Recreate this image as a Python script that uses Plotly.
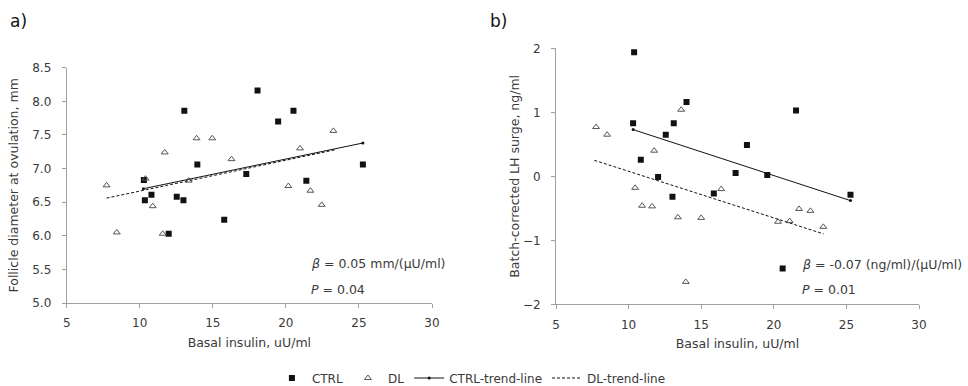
import plotly.graph_objects as go

# ---------- data ----------
# Panel a: follicle diameter at ovulation (mm) vs basal insulin (uU/ml)
a_ctrl_x = [10.28, 10.35, 10.80, 12.53, 12.99, 11.98, 13.05, 13.94, 15.78, 17.29, 18.06, 19.47, 20.52, 21.40, 25.27]
a_ctrl_y = [6.83, 6.53, 6.61, 6.58, 6.53, 6.03, 7.86, 7.06, 6.24, 6.92, 8.16, 7.70, 7.86, 6.82, 7.06]
a_dl_x = [7.73, 8.43, 10.39, 10.89, 11.57, 11.71, 13.35, 13.89, 14.96, 16.28, 20.17, 20.97, 21.68, 22.45, 23.25]
a_dl_y = [6.75, 6.05, 6.85, 6.44, 6.03, 7.24, 6.82, 7.45, 7.45, 7.14, 6.74, 7.30, 6.67, 6.46, 7.56]
a_ctrl_trend_x = [10.25, 25.27]
a_ctrl_trend_y = [6.70, 7.38]
a_dl_trend_x = [7.73, 23.40]
a_dl_trend_y = [6.56, 7.28]

# Panel b: batch-corrected LH surge (ng/ml) vs basal insulin (uU/ml)
b_ctrl_x = [10.38, 10.31, 10.84, 12.03, 12.56, 13.02, 13.11, 13.99, 15.87, 17.37, 18.15, 19.55, 20.61, 21.53, 25.28]
b_ctrl_y = [1.94, 0.83, 0.26, -0.01, 0.65, -0.32, 0.83, 1.16, -0.27, 0.05, 0.49, 0.02, -1.44, 1.03, -0.29]
b_dl_x = [7.76, 8.52, 10.45, 10.93, 11.62, 11.76, 13.39, 13.62, 13.94, 15.00, 16.38, 20.29, 21.09, 21.74, 22.52, 23.41]
b_dl_y = [0.77, 0.65, -0.18, -0.46, -0.47, 0.40, -0.64, 1.04, -1.65, -0.65, -0.20, -0.71, -0.70, -0.51, -0.54, -0.79]
b_ctrl_trend_x = [10.31, 25.28]
b_ctrl_trend_y = [0.73, -0.38]
b_dl_trend_x = [7.64, 23.43]
b_dl_trend_y = [0.25, -0.90]

x_ticks = [5, 10, 15, 20, 25, 30]

FONT = "DejaVu Sans"
TXT = "#3a3a3a"
AX = "#a0a0a0"
W, H = 968, 386

fig = go.Figure()

def add_panel(xa, ya, cx, cy, dx, dy, ctx, cty, dtx, dty, show):
    fig.add_trace(go.Scatter(x=cx, y=cy, mode="markers", name="CTRL", showlegend=show,
                             legendrank=1,
                             marker=dict(symbol="square", size=6, color="#111111"),
                             xaxis=xa, yaxis=ya))
    fig.add_trace(go.Scatter(x=dx, y=dy, mode="markers", name="DL", showlegend=show,
                             legendrank=2,
                             marker=dict(symbol="triangle-up-open", size=6, color="#555555",
                                         line=dict(width=1, color="#555555")),
                             xaxis=xa, yaxis=ya))
    fig.add_trace(go.Scatter(x=ctx, y=cty, mode="lines+markers", name="CTRL-trend-line", showlegend=show,
                             legendrank=3,
                             line=dict(color="#111111", width=1),
                             marker=dict(size=3, color="#111111"),
                             xaxis=xa, yaxis=ya))
    fig.add_trace(go.Scatter(x=dtx, y=dty, mode="lines", name="DL-trend-line", showlegend=show,
                             legendrank=4,
                             line=dict(color="#111111", width=1, dash="3px,2px"),
                             xaxis=xa, yaxis=ya))

add_panel("x", "y", a_ctrl_x, a_ctrl_y, a_dl_x, a_dl_y,
          a_ctrl_trend_x, a_ctrl_trend_y, a_dl_trend_x, a_dl_trend_y, True)
add_panel("x2", "y2", b_ctrl_x, b_ctrl_y, b_dl_x, b_dl_y,
          b_ctrl_trend_x, b_ctrl_trend_y, b_dl_trend_x, b_dl_trend_y, False)

axis_common = dict(showline=True, linecolor=AX, linewidth=1, showgrid=False, zeroline=False,
                   ticks="outside", tickcolor=AX, ticklen=4, tickwidth=1,
                   tickfont=dict(family=FONT, size=12, color=TXT))
title_font = dict(family=FONT, size=12.5, color=TXT)

fig.update_layout(
    width=W, height=H,
    margin=dict(l=0, r=0, t=0, b=0, autoexpand=False),
    paper_bgcolor="white", plot_bgcolor="white",
    font=dict(family=FONT, size=12, color=TXT),
    showlegend=True,
    legend=dict(orientation="h", x=0.487, xanchor="center", y=1 - 378 / H, yanchor="middle",
                font=dict(family=FONT, size=12, color=TXT), itemwidth=30,
                traceorder="normal"),
    xaxis=dict(domain=[66.7 / W, 432 / W], range=[5, 30], tickvals=x_ticks, ticklabelstandoff=5,
               title=dict(text="Basal insulin, uU/ml", font=title_font, standoff=8),
               anchor="y", **axis_common),
    yaxis=dict(domain=[1 - 303 / H, 1 - 67.7 / H], range=[5, 8.5], dtick=0.5, tickformat=".1f",
               ticklabelstandoff=8,
               title=dict(text="Follicle diameter at ovulation, mm", font=title_font, standoff=10),
               anchor="x", **axis_common),
    xaxis2=dict(domain=[556 / W, 919 / W], range=[5, 30], tickvals=x_ticks, ticklabelstandoff=5,
                title=dict(text="Basal insulin, uU/ml", font=title_font, standoff=8),
                anchor="y2", **axis_common),
    yaxis2=dict(domain=[1 - 304.3 / H, 1 - 48.3 / H], range=[-2, 2], dtick=1,
                ticklabelstandoff=8,
                title=dict(text="Batch-corrected LH surge, ng/ml", font=title_font, standoff=0),
                anchor="x2", **axis_common),
)

ann_font = dict(family=FONT, size=12.5, color=TXT)
fig.add_annotation(text="a)", xref="paper", yref="paper", x=8 / W, y=1 - 21 / H, xanchor="left", yanchor="middle",
                   showarrow=False, font=dict(family=FONT, size=17, color="#111111"))
fig.add_annotation(text="b)", xref="paper", yref="paper", x=488 / W, y=1 - 21 / H, xanchor="left", yanchor="middle",
                   showarrow=False, font=dict(family=FONT, size=17, color="#111111"))
fig.add_annotation(text="<i>β</i> = 0.05 mm/(μU/ml)", xref="paper", yref="paper", x=309 / W, y=1 - 263 / H,
                   xanchor="left", yanchor="middle", showarrow=False, font=ann_font)
fig.add_annotation(text="<i>P</i> = 0.04", xref="paper", yref="paper", x=309 / W, y=1 - 289 / H,
                   xanchor="left", yanchor="middle", showarrow=False, font=ann_font)
fig.add_annotation(text="<i>β</i> = -0.07 (ng/ml)/(μU/ml)", xref="paper", yref="paper", x=800 / W, y=1 - 264 / H,
                   xanchor="left", yanchor="middle", showarrow=False, font=ann_font)
fig.add_annotation(text="<i>P</i> = 0.01", xref="paper", yref="paper", x=800 / W, y=1 - 289 / H,
                   xanchor="left", yanchor="middle", showarrow=False, font=ann_font)

fig.write_html("out.html", config={"displayModeBar": False},
               post_script="document.body.style.margin='0px';document.body.style.overflow='hidden';")
